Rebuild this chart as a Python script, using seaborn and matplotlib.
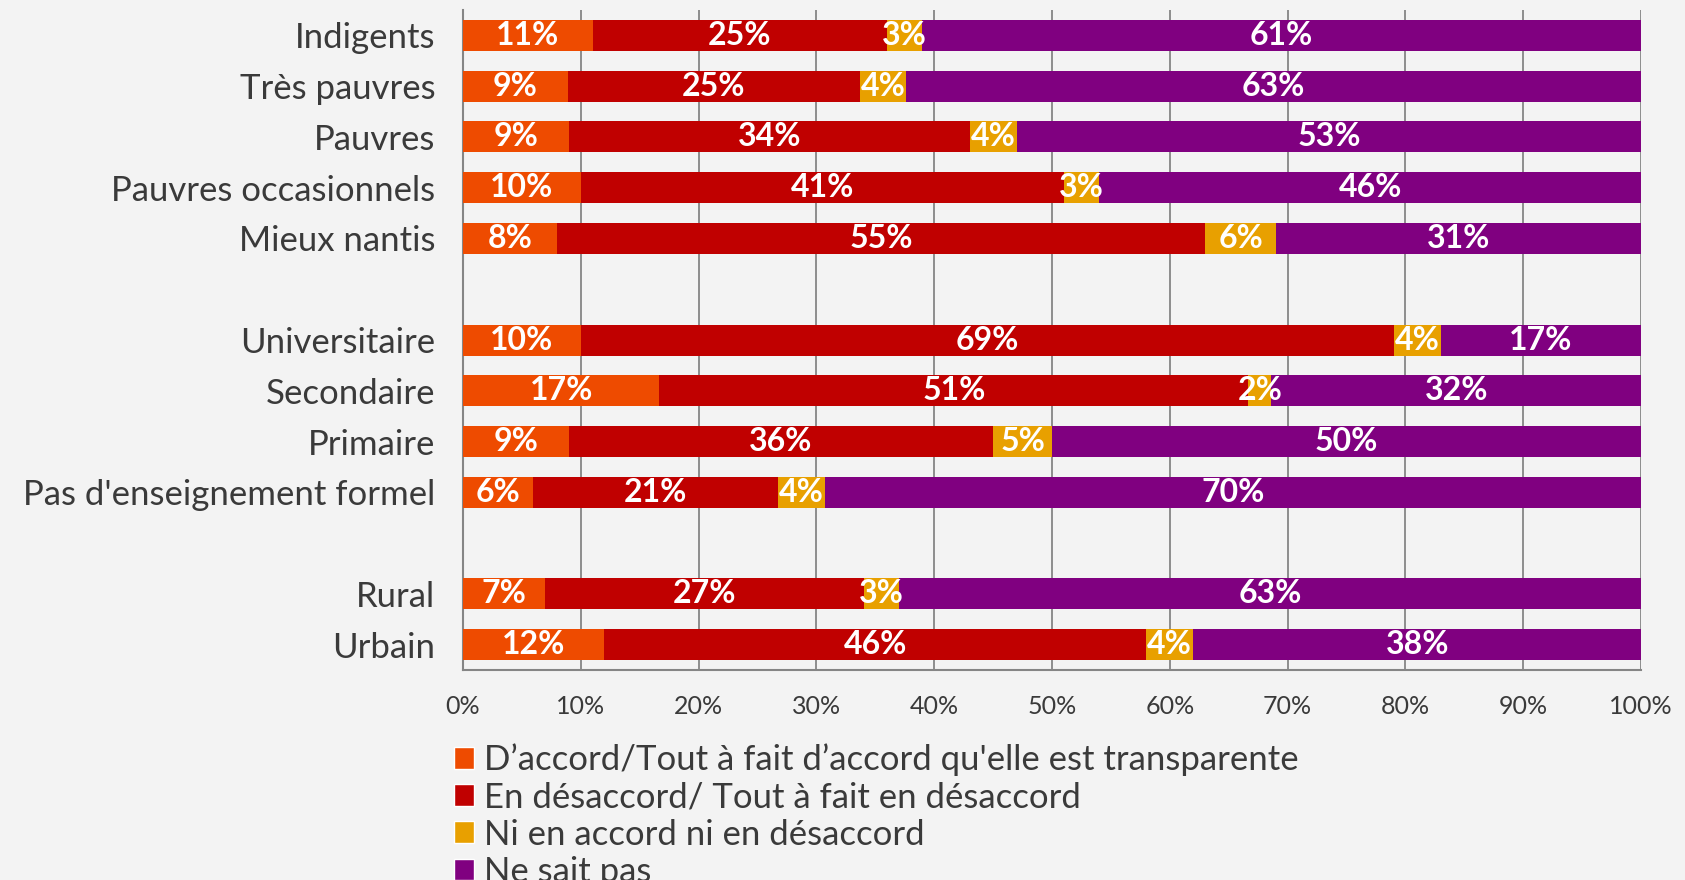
import numpy as np
import pandas as pd
import matplotlib
matplotlib.use("Agg")
import matplotlib.pyplot as plt
import seaborn as sns
from matplotlib.patches import Patch

# data (percent, per row)
groups = ["Indigents", "Très pauvres", "Pauvres", "Pauvres occasionnels", "Mieux nantis",
          "Universitaire", "Secondaire", "Primaire", "Pas d'enseignement formel",
          "Rural", "Urbain"]
accord = [11, 9, 9, 10, 8, 10, 17, 9, 6, 7, 12]
desaccord = [25, 25, 34, 41, 55, 69, 51, 36, 21, 27, 46]
neutre = [3, 4, 4, 3, 6, 4, 2, 5, 4, 3, 4]
nsp = [61, 63, 53, 46, 31, 17, 32, 50, 70, 63, 38]

series_names = ["D\u2019accord/Tout à fait d\u2019accord qu'elle est transparente",
                "En désaccord/ Tout à fait en désaccord",
                "Ni en accord ni en désaccord",
                "Ne sait pas"]
colors = ["#EE4B00", "#C00000", "#E8A000", "#800080"]

# row order with two blank spacer rows
order = groups[:5] + [" "] + groups[5:9] + ["  "] + groups[9:]

sns.set_style("white")
plt.rcParams['font.family'] = ['Lato', 'DejaVu Sans']
txt = "#3a3a3a"
grey = "#858585"

df = pd.DataFrame({"group": groups, "a": accord, "b": desaccord, "c": neutre, "d": nsp})
tot = df[["a", "b", "c", "d"]].sum(axis=1)
pct = df[["a", "b", "c", "d"]].div(tot, axis=0) * 100
cum = pct.cumsum(axis=1)
cum["group"] = df["group"]

fig = plt.figure(figsize=(16.85, 8.8), dpi=100, facecolor="#F3F3F3")
ax = fig.add_axes([0.2748, 0.2386, 0.6991, 0.75])
ax.set_facecolor("#F3F3F3")

# stacked bars: draw cumulative totals from the right end backwards
for col, c in zip(["d", "c", "b", "a"], colors[::-1]):
    sns.barplot(data=cum, x=col, y="group", order=order, orient="h",
                color=c, width=0.61, linewidth=0, saturation=1, ax=ax, zorder=3)

# segment labels
for i, g in enumerate(groups):
    row = order.index(g)
    left = 0
    vals = [accord[i], desaccord[i], neutre[i], nsp[i]]
    for k, key in enumerate(["a", "b", "c", "d"]):
        w = pct.loc[i, key]
        ax.text(left + w / 2, row, f"{vals[k]}%", ha="center", va="center",
                color="white", fontsize=23, fontweight="bold", zorder=5)
        left += w

ax.set_xlim(0, 100)
ax.set_ylim(len(order) - 0.5, -0.5)
ax.set_xticks(np.arange(0, 101, 10))
ax.set_xticklabels([f"{v}%" for v in range(0, 101, 10)], fontsize=18, color=txt)
ax.set_yticks(range(len(order)))
ax.set_yticklabels([o.strip() for o in order], fontsize=25, color=txt)
ax.set_yticks(np.arange(-0.5, len(order), 1), minor=True)
ax.tick_params(axis="y", which="major", length=0, pad=20)
ax.tick_params(axis="y", which="minor", length=8, color=grey, width=1.5)
ax.tick_params(axis="x", length=7, color=grey, width=1.5, pad=11)
ax.set_xlabel("")
ax.set_ylabel("")
ax.grid(axis="x", color=grey, linewidth=1.3, zorder=0)
for s in ["top", "right"]:
    ax.spines[s].set_visible(False)
for s in ["left", "bottom"]:
    ax.spines[s].set_color(grey)
    ax.spines[s].set_linewidth(1.5)

handles = [Patch(facecolor=c, label=n) for c, n in zip(colors, series_names)]
fig.legend(handles=handles, loc="upper left", bbox_to_anchor=(0.259, 0.175),
           frameon=False, fontsize=25, labelcolor=txt, handlelength=0.58,
           handleheight=0.58, handletextpad=0.3, labelspacing=0.15, borderpad=0)

fig.savefig("out.png", dpi=100, facecolor=fig.get_facecolor())
